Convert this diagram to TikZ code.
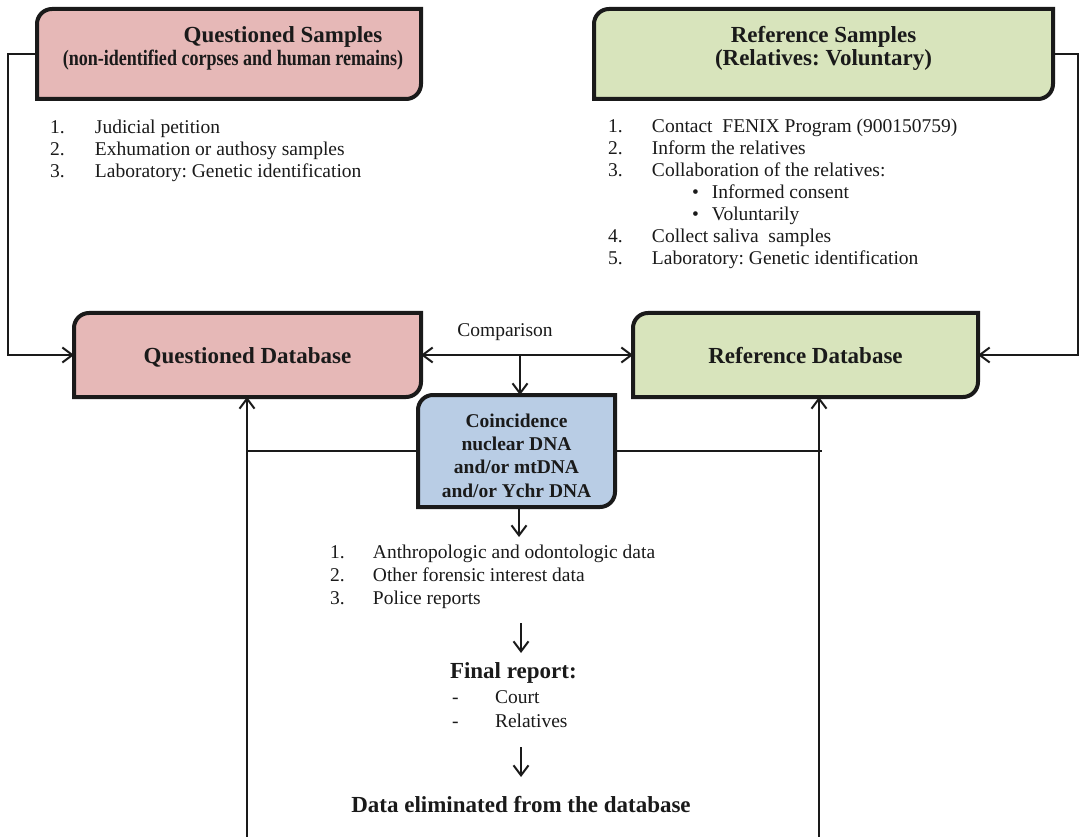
\documentclass[tikz,border=0pt]{standalone}
\usepackage{fontspec}
\setmainfont{Liberation Serif}
\usetikzlibrary{arrows.meta}
\pgfdeclarelayer{background}
\pgfsetlayers{background,main}
\frenchspacing

\definecolor{qpink}{RGB}{230,184,183}
\definecolor{rgreen}{RGB}{216,228,188}
\definecolor{cblue}{RGB}{185,205,229}
\definecolor{ink}{RGB}{26,26,26}

\tikzset{
  txt/.style={inner sep=0pt, outer sep=0pt, text=ink,
    font=\fontsize{19.5}{22}\selectfont},
  boldtxt/.style={txt, font=\fontsize{19.5}{22}\selectfont\bfseries},
  titletxt/.style={txt, font=\fontsize{23}{24}\selectfont\bfseries},
  region/.style={inner sep=0pt, outer sep=0pt},
  conn/.style={draw=ink, line width=2pt},
  tip/.style={-{Straight Barb[length=10pt,width=15pt]}},
  boxline/.style={draw=ink, line width=4pt, line join=miter},
}

% outline with rounded top-left and bottom-right corners, behind the texts
\newcommand{\cornerbox}[2]{%
  \begin{pgfonlayer}{background}
    \draw[boxline, fill=#2] (#1.south west)
      -- ([yshift=-15pt]#1.north west) arc[start angle=180, end angle=90, radius=15pt]
      -- (#1.north east)
      -- ([yshift=15pt]#1.south east) arc[start angle=0, end angle=-90, radius=15pt]
      -- cycle;
  \end{pgfonlayer}}

\begin{document}
\begin{tikzpicture}[x=1pt, y=1pt]
\useasboundingbox (0,0) rectangle (1080,-837);

% ---------- sample boxes ----------
\node[region, minimum width=384pt, minimum height=90pt] (qs) at (229,-54) {};
\node[region, minimum width=459pt, minimum height=90pt] (rs) at (823.5,-54) {};
\cornerbox{qs}{qpink}
\cornerbox{rs}{rgreen}
\node[titletxt, anchor=base] (qsT1) at (283,-43) {Questioned Samples};
\node[titletxt, anchor=base] (qsT2) at (233,-66)
  {\scalebox{0.82}[1]{\fontsize{22}{24}\selectfont(non-identified corpses and human remains)}};
\node[titletxt, anchor=base] (rsT1) at (823.5,-43) {Reference Samples};
\node[titletxt, anchor=base] (rsT2) at (823.5,-66) {(Relatives: Voluntary)};

% ---------- steps under the sample boxes ----------
\node[txt, anchor=base west] (qa1) at (50,-134) {\makebox[45pt][l]{1.}Judicial petition};
\node[txt, anchor=base west] (qa2) at (50,-156) {\makebox[45pt][l]{2.}Exhumation or authosy samples};
\node[txt, anchor=base west] (qa3) at (50,-178) {\makebox[45pt][l]{3.}Laboratory: Genetic identification};

\node[txt, anchor=base west] (ra1) at (608,-133) {\makebox[44pt][l]{1.}Contact\ \ FENIX Program (900150759)};
\node[txt, anchor=base west] (ra2) at (608,-155) {\makebox[44pt][l]{2.}Inform the relatives};
\node[txt, anchor=base west] (ra3) at (608,-177) {\makebox[44pt][l]{3.}Collaboration of the relatives:};
\node[txt, anchor=base west] (rb1) at (692,-199) {\makebox[20pt][l]{•}Informed consent};
\node[txt, anchor=base west] (rb2) at (692,-221) {\makebox[20pt][l]{•}Voluntarily};
\node[txt, anchor=base west] (ra4) at (608,-243) {\makebox[44pt][l]{4.}Collect saliva\ \ samples};
\node[txt, anchor=base west] (ra5) at (608,-265) {\makebox[44pt][l]{5.}Laboratory: Genetic identification};

% ---------- databases ----------
\node[region, minimum width=347pt, minimum height=84pt] (qdb) at (247.5,-355) {};
\node[region, minimum width=345pt, minimum height=84pt] (rdb) at (805.5,-355) {};
\cornerbox{qdb}{qpink}
\cornerbox{rdb}{rgreen}
\node[titletxt, anchor=base] (qdbT) at (247.5,-363) {Questioned Database};
\node[titletxt, anchor=base] (rdbT) at (805.5,-363) {Reference Database};

% ---------- coincidence ----------
\node[region, minimum width=197pt, minimum height=112pt] (coin) at (516.5,-451) {};
\cornerbox{coin}{cblue}
\node[boldtxt, anchor=base] (c1) at (516.5,-427) {Coincidence};
\node[boldtxt, anchor=base] (c2) at (516.5,-450) {nuclear DNA};
\node[boldtxt, anchor=base] (c3) at (516.5,-473) {and/or mtDNA};
\node[boldtxt, anchor=base] (c4) at (516.5,-497) {and/or Ychr DNA};

\node[txt, anchor=base] (cmp) at (505,-337) {Comparison};

% ---------- follow-up steps ----------
\node[txt, anchor=base west] (fa1) at (330,-558) {\makebox[43pt][l]{1.}Anthropologic and odontologic data};
\node[txt, anchor=base west] (fa2) at (330,-581) {\makebox[43pt][l]{2.}Other forensic interest data};
\node[txt, anchor=base west] (fa3) at (330,-604) {\makebox[43pt][l]{3.}Police reports};

\node[titletxt, anchor=base west] (fin) at (450,-678) {Final report:};
\node[txt, anchor=base west] (fin1) at (452,-703) {\makebox[43pt][l]{-}Court};
\node[txt, anchor=base west] (fin2) at (452,-727) {\makebox[43pt][l]{-}Relatives};

\node[titletxt, anchor=base] (elim) at (521,-812) {Data eliminated from the database};

% ---------- connectors ----------
\coordinate (lbend) at (8,-355);
\coordinate (rbend) at (1078,-355);
\draw[conn, tip] (qs.west) -| (lbend) -- (qdb.west);
\draw[conn, tip] (rs.east) -| (rbend) -- (rdb.east);

\draw[conn, {Straight Barb[length=10pt,width=15pt]}-{Straight Barb[length=10pt,width=15pt]}]
  (qdb.east) -- (rdb.west);
\coordinate (cmpjoin) at (520,-355);
\draw[conn, tip] (cmpjoin) -- (cmpjoin |- coin.north);

\coordinate (lbot) at (247,-837);
\coordinate (rbot) at (819,-837);
\coordinate (rstub) at (822,-451);
\draw[conn, tip] (lbot) -- (lbot |- qdb.south);
\draw[conn, tip] (rbot) -- (rbot |- rdb.south);
\draw[conn] (coin.west) -- (lbot |- coin.west);
\draw[conn] (coin.east) -- (rstub);

\coordinate (coinout) at (519,-507);
\coordinate (coinend) at (519,-537);
\draw[conn, tip] (coinout) -- (coinend);

\coordinate (finA) at (521,-623);
\coordinate (finB) at (521,-653);
\draw[conn, tip] (finA) -- (finB);

\coordinate (elA) at (521,-747);
\coordinate (elB) at (521,-777);
\draw[conn, tip] (elA) -- (elB);

\end{tikzpicture}
\end{document}
